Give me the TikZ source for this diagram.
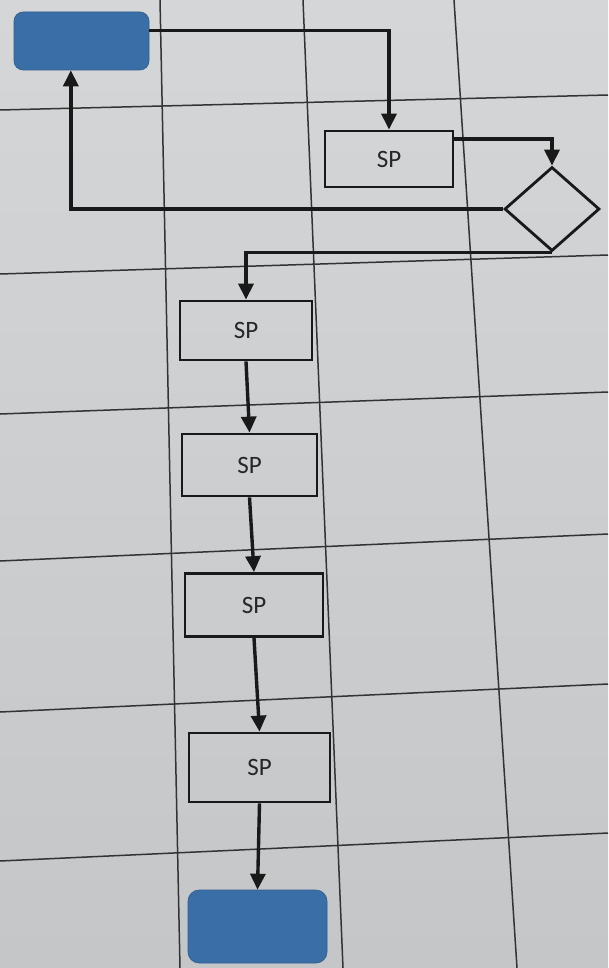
\documentclass[tikz,border=0pt]{standalone}
\usepackage{fontspec}
\setmainfont{Carlito}
\usetikzlibrary{shapes.geometric,arrows.meta}
\definecolor{papertop}{RGB}{212,214,215}
\definecolor{paperbot}{RGB}{196,198,199}
\definecolor{termblue}{RGB}{58,110,166}
\definecolor{ink}{RGB}{25,25,25}
\begin{document}
\begin{tikzpicture}[x=1pt,y=-1pt,
  gridline/.style={line width=1.5pt, draw=black!80},
  terminal/.style={rectangle, rounded corners=9pt, fill=termblue, draw=termblue!85!black, line width=0.6pt, inner sep=0pt},
  process/.style={rectangle, draw=ink, line width=2.8pt, inner sep=0pt, font=\fontsize{25}{30}\selectfont, text=black!85},
  decision/.style={diamond, draw=ink, line width=2.8pt, inner sep=0pt, minimum width=95pt, minimum height=84pt},
  flow/.style={draw=ink, line width=3.4pt, -{Triangle[length=16pt,width=15pt]}}
]
\shade[top color=papertop, bottom color=paperbot] (0,0) rectangle (608,968);
\useasboundingbox (0,0) rectangle (608,968);

% grid
\draw[gridline] (160,0) -- (180,968);
\draw[gridline] (303,0) -- (343,968);
\draw[gridline] (454,0) -- (517,968);
\draw[gridline] (0,110) -- (608,95);
\draw[gridline] (0,274) -- (608,255);
\draw[gridline] (0,414) -- (608,392);
\draw[gridline] (0,561) -- (608,534);
\draw[gridline] (0,712) -- (608,684);
\draw[gridline] (0,861) -- (608,833);

% nodes
\node[terminal, minimum width=135pt, minimum height=58pt] (start) at (81.5,41) {};
\node[process, minimum width=128pt, minimum height=56pt] (sp1) at (389,159) {SP};
\node[decision] (dia) at (552,209) {};
\node[process, minimum width=132pt, minimum height=59pt] (sp2) at (246,330.5) {SP};
\node[process, minimum width=135pt, minimum height=62pt] (sp3) at (249.5,465) {SP};
\node[process, minimum width=138pt, minimum height=63pt] (sp4) at (254,605) {SP};
\node[process, minimum width=141pt, minimum height=69pt] (sp5) at (259.5,767.5) {SP};
\node[terminal, minimum width=139pt, minimum height=73pt, rounded corners=11pt] (stop) at (257.5,926.5) {};

% connectors
\draw[flow] (start.9) -| (sp1.north);
\draw[flow] (sp1.17) -| (dia.north);
\draw[flow] (dia.west) -| (start.-110);
\draw[flow] (dia.south) -| (sp2.north);
\draw[flow] (sp2.south) -- (sp3.north);
\draw[flow] (sp3.south) -- (sp4.north);
\draw[flow] (sp4.south) -- (sp5.north);
\draw[flow] (sp5.south) -- (stop.north);
\end{tikzpicture}
\end{document}
